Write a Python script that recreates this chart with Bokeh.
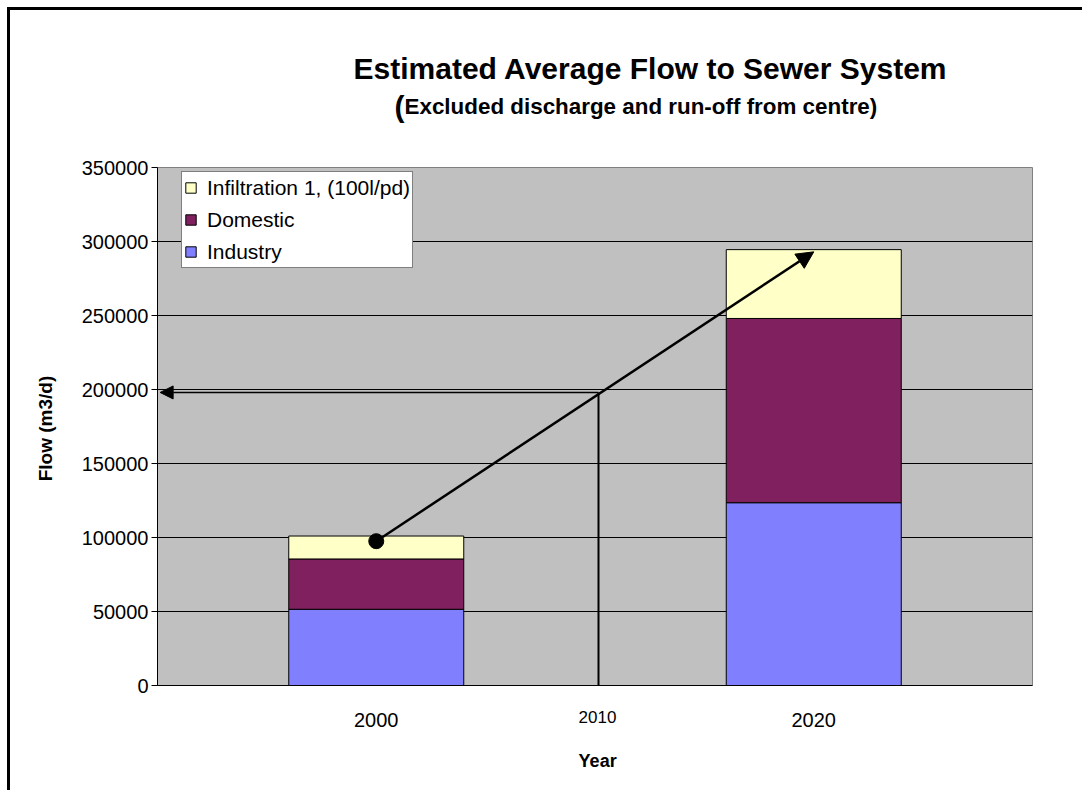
import math
from bokeh.plotting import figure
from bokeh.models import (FactorRange, Range1d, Legend, LegendItem, Label, Arrow,
                          NormalHead, ColumnDataSource, FixedTicker)
from bokeh.embed import file_html
from bokeh.resources import INLINE

# ---------------- data ----------------
years = ["2000", "2020"]
industry = [51500, 123500]
domestic = [34000, 124500]
infiltration = [15500, 46500]
series_keys = ["industry", "domestic", "infiltration"]
series_labels = ["Industry", "Domestic", "Infiltration 1, (100l/pd)"]
series_colors = ["#8080FF", "#80205F", "#FFFFC8"]
y_ticks = [0, 50000, 100000, 150000, 200000, 250000, 300000, 350000]

growth_from = ("2000", 97500)
growth_to = ("2020", 293000)
mid_label = "2010"
mid_pos = 1.008          # between the two categories
mid_flow = 198000

title_text = "Estimated Average Flow to Sewer System"
subtitle_text = "Excluded discharge and run-off from centre)"
x_title = "Year"
y_title = "Flow (m3/d)"

FONT = "Liberation Sans"

src = ColumnDataSource(dict(year=years, industry=industry, domestic=domestic,
                            infiltration=infiltration))

def xc(cat):
    return years.index(cat) + 0.5

p = figure(width=1075, height=783, output_backend="svg", toolbar_location=None,
           x_range=FactorRange(*years), y_range=Range1d(0, 350000),
           min_border_left=147, min_border_right=53, min_border_top=157,
           min_border_bottom=108)
p.styles = {"margin-left": "10px", "margin-top": "10px",
            "box-shadow": "-3px -3px 0px 0px black"}

p.background_fill_color = "#C0C0C0"
p.border_fill_color = "white"
p.outline_line_color = "#808080"
p.outline_line_width = 1

rs = p.vbar_stack(series_keys, x="year", width=0.4, source=src,
                  color=series_colors, line_color="black", line_width=1)

# axes
p.yaxis.ticker = FixedTicker(ticks=y_ticks)
p.yaxis.formatter.use_scientific = False
p.yaxis.major_label_text_font = FONT
p.yaxis.major_label_text_font_size = "20px"
p.yaxis.major_label_text_color = "black"
p.yaxis.major_tick_out = 6
p.yaxis.major_tick_in = 0
p.yaxis.minor_tick_line_color = None
p.yaxis.major_label_standoff = 3
p.yaxis.axis_line_color = "black"

p.xaxis.major_label_text_font = FONT
p.xaxis.major_label_text_font_size = "20px"
p.xaxis.major_label_text_color = "black"
p.xaxis.major_tick_line_color = None
p.xaxis.major_label_standoff = 21
p.xaxis.axis_line_color = "black"

p.xgrid.grid_line_color = None
p.ygrid.grid_line_color = "black"
p.ygrid.grid_line_width = 1

# growth arrow
p.add_layout(Arrow(end=NormalHead(size=17, fill_color="black", line_color="black"),
                   x_start=xc(growth_from[0]), y_start=growth_from[1],
                   x_end=xc(growth_to[0]), y_end=growth_to[1],
                   line_width=2.5, line_color="black"))
p.scatter([growth_from[0]], [growth_from[1]], size=15, color="black")

# 2010 read-off lines
p.add_layout(Arrow(end=NormalHead(size=13, fill_color="black", line_color="black"),
                   x_start=mid_pos, y_start=mid_flow, x_end=0.006, y_end=mid_flow,
                   line_width=1.5, line_color="black"))
p.add_layout(Arrow(end=None, x_start=mid_pos, y_start=mid_flow, x_end=mid_pos,
                   y_end=0, line_width=2, line_color="black"))

# legend
items = [LegendItem(label=series_labels[i], renderers=[rs[i]]) for i in (2, 1, 0)]
leg = Legend(items=items, location=(24, 417), background_fill_color="white",
             background_fill_alpha=1, border_line_color="black", border_line_width=1,
             label_text_font=FONT, label_text_font_size="21px",
             label_text_color="black", glyph_width=13, glyph_height=13,
             label_height=27, spacing=5, padding=2, margin=0, label_standoff=10)
p.add_layout(leg)

# texts (placed in side panels so they are not clipped by the plot frame)
def ydata(px):
    # pixel offset above frame bottom -> data
    return px / 518 * 350000

p.add_layout(Label(x=1.127, y=ydata(617), text=title_text, text_font=FONT,
                   text_font_size="30px", text_font_style="bold", text_color="black",
                   text_align="center", text_baseline="middle"), "above")
p.add_layout(Label(x=0.5646, y=ydata(579), text="(", text_font=FONT,
                   text_font_size="30px", text_font_style="bold", text_color="black",
                   text_align="right", text_baseline="middle"), "above")
p.add_layout(Label(x=0.5646, y=ydata(579), text=subtitle_text, text_font=FONT,
                   text_font_size="22.4px", text_font_style="bold", text_color="black",
                   text_align="left", text_baseline="middle"), "above")
p.add_layout(Label(x=1.006, y=ydata(-75), text=x_title, text_font=FONT,
                   text_font_size="18px", text_font_style="bold", text_color="black",
                   text_align="center", text_baseline="middle"), "below")
p.add_layout(Label(x=-0.256, y=ydata(257), text=y_title, text_font=FONT,
                   text_font_size="19px", text_font_style="bold", text_color="black",
                   angle=math.pi / 2, text_align="center", text_baseline="middle"),
             "left")
p.add_layout(Label(x=1.0057, y=ydata(-31), text=mid_label, text_font=FONT,
                   text_font_size="17px", text_color="black",
                   text_align="center", text_baseline="middle"), "below")

open("out.html", "w").write(file_html(p, INLINE))
